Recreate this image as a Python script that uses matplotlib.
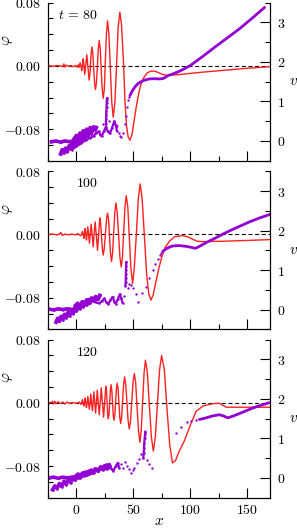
import numpy as np
import matplotlib
matplotlib.use("Agg")
import matplotlib.pyplot as plt
from matplotlib.ticker import FixedLocator, MultipleLocator, FuncFormatter

plt.rcParams['mathtext.fontset'] = 'cm'
plt.rcParams['font.family'] = ['DejaVu Serif']

RED = '#ff2020'
PURPLE = '#9400d3'

# panel labels
labels = [r'$t\, =\, 80$', r'$100$', r'$120$']

# ---- red curves: (x, phi) ----
red_80 = np.array([
    (-25, 0.0005), (-21, -0.0005), (-17, 0.0005), (-14, 0.0), (-12, -0.001), (-11, 0.0025),
    (-10, -0.0015), (-9, 0.001), (-7, -0.0005), (-5, 0.0005), (-3, -0.001), (-1, 0.0005),
    (0.5, -0.0015), (1.5, 0.0015), (2.3, -0.002), (3.2, 0.004), (4.0, -0.001), (4.7, -0.006),
    (5.3, 0.002), (5.9, 0.009), (6.6, 0.0), (7.3, -0.011), (8.2, 0.002), (9.1, 0.014),
    (10.1, -0.002), (11.1, -0.018), (11.9, -0.009), (12.6, 0.010), (13.5, 0.024), (14.3, 0.017),
    (15.1, -0.003), (15.9, -0.021), (16.7, -0.030), (17.5, -0.022), (18.4, 0.0), (19.2, 0.022),
    (20.0, 0.032), (20.9, 0.022), (21.7, -0.004), (22.6, -0.029), (23.5, -0.041), (24.5, -0.029),
    (25.4, 0.008), (26.3, 0.040), (27.3, 0.057), (28.5, 0.040), (29.8, -0.004), (31.0, -0.046),
    (32.3, -0.065), (33.8, -0.046), (35.2, 0.0), (36.6, 0.048), (38.1, 0.068), (39.6, 0.052),
    (41.5, 0.0), (42.6, -0.045), (43.9, -0.075), (45.4, -0.090), (47.0, -0.094), (48.8, -0.087),
    (50.6, -0.070), (52.5, -0.052), (54.5, -0.036), (56.5, -0.024), (59.0, -0.015), (62.0, -0.009),
    (65.5, -0.0065), (69.0, -0.0068), (72.0, -0.0085), (76.0, -0.011), (80.0, -0.012),
    (90.0, -0.011), (110.0, -0.008), (130.0, -0.0055), (150.0, -0.003), (170.0, -0.001),
])

red_100 = np.array([
    (-25, 0.0), (-21, 0.0005), (-17, -0.0005), (-15, 0.0005), (-13.8, 0.0025), (-12.5, -0.001),
    (-10, 0.0005), (-7, -0.0005), (-4, 0.0005), (-1, -0.0005), (1.5, 0.001), (3.5, -0.0015),
    (4.5, 0.0), (5.3, 0.004), (5.9, 0.0), (6.5, -0.005), (7.0, 0.0), (7.6, 0.0075), (8.2, 0.0),
    (8.8, -0.007), (9.4, 0.001), (10.0, 0.0097), (10.7, 0.0), (11.4, -0.011), (12.1, 0.0),
    (12.9, 0.013), (13.8, 0.0), (14.7, -0.0156), (15.5, 0.0), (16.4, 0.016), (17.4, 0.0),
    (18.5, -0.020), (19.5, 0.0), (20.5, 0.021), (21.2, 0.015), (22.0, -0.002), (22.8, -0.019),
    (23.5, -0.026), (24.4, -0.018), (25.4, 0.0), (26.4, 0.019), (27.3, 0.027), (28.2, 0.019),
    (29.0, -0.003), (29.9, -0.024), (30.8, -0.034), (31.7, -0.024), (32.7, 0.002), (33.7, 0.028),
    (34.6, 0.040), (35.8, 0.028), (37.0, 0.0), (38.2, -0.029), (39.3, -0.041), (40.4, -0.029),
    (41.5, 0.004), (42.6, 0.035), (43.7, 0.049), (45.1, 0.035), (46.5, -0.006), (47.9, -0.044),
    (49.3, -0.062), (50.7, -0.044), (52.6, 0.0), (54.3, 0.045), (56.0, 0.064), (57.7, 0.045),
    (59.8, -0.005), (61.6, -0.050), (63.5, -0.075), (65.4, -0.083), (67.3, -0.077), (69.5, -0.062),
    (72.0, -0.045), (75.0, -0.028), (78.0, -0.016), (82.0, -0.008), (86.0, -0.003), (92.7, -0.0013),
    (98.0, -0.003), (102.0, -0.006), (106.0, -0.0085), (110.0, -0.009), (130.0, -0.0085),
    (150.0, -0.0075), (170.0, -0.0065),
])

red_120 = np.array([
    (-25, 0.0), (-22, 0.0005), (-21, 0.002), (-20, -0.0015), (-19, 0.002), (-18, -0.001),
    (-16, 0.0015), (-14, -0.001), (-12, 0.001), (-10, -0.0015), (-8.5, 0.001), (-6, -0.0005),
    (-3, 0.0005), (0, -0.0005), (2.5, 0.001), (4.0, -0.002), (5.3, 0.004), (5.9, 0.0),
    (6.5, -0.004), (7.05, 0.0), (7.6, 0.006), (8.2, 0.0), (8.8, -0.006), (9.4, 0.0), (10.0, 0.008),
    (10.65, 0.0), (11.3, -0.008), (11.95, 0.0), (12.6, 0.011), (13.3, 0.0), (14.0, -0.010),
    (14.65, 0.001), (15.3, 0.014), (16.05, 0.0), (16.8, -0.013), (17.55, 0.001), (18.3, 0.016),
    (19.15, 0.0), (20.0, -0.015), (20.9, 0.001), (21.8, 0.019), (22.8, 0.0), (23.8, -0.018),
    (24.8, 0.001), (25.8, 0.021), (26.4, 0.015), (26.9, 0.0), (27.4, -0.014), (28.0, -0.020),
    (28.6, -0.014), (29.2, 0.001), (29.8, 0.016), (30.4, 0.023), (31.05, 0.016), (31.7, 0.0),
    (32.35, -0.016), (33.0, -0.022), (33.7, -0.015), (34.4, 0.001), (35.1, 0.018), (35.8, 0.025),
    (36.55, 0.018), (37.3, 0.0), (38.05, -0.018), (38.8, -0.026), (39.7, -0.018), (40.55, 0.003),
    (41.4, 0.023), (42.3, 0.033), (43.3, 0.023), (44.35, 0.0), (45.4, -0.023), (46.4, -0.033),
    (47.5, -0.023), (48.6, 0.002), (49.7, 0.026), (50.8, 0.037), (52.0, 0.026), (53.25, -0.006),
    (54.5, -0.035), (55.7, -0.050), (56.9, -0.035), (58.15, 0.002), (59.4, 0.038), (60.6, 0.054),
    (62.3, 0.038), (64.05, -0.003), (65.8, -0.043), (67.5, -0.061), (69.3, -0.043), (71.15, 0.0),
    (73.0, 0.042), (74.8, 0.060), (77.2, 0.042), (79.55, -0.008), (81.9, -0.053), (84.3, -0.076),
    (87.0, -0.073), (90.0, -0.062), (94.8, -0.048), (100.6, -0.026), (105.0, -0.011),
    (111.0, -0.004), (119.7, -0.001), (125.6, -0.0005), (128.5, -0.003), (131.5, -0.0055),
    (150.0, -0.0055), (170.0, -0.0055),
])

# ---- purple v_x: (x, v) ----
pur80_flat = np.array([(-22, -0.02), (-18, 0.0), (-14, -0.03), (-10, 0.0), (-6, -0.02), (-2, 0.01), (0, -0.02)])
pur80_lower = np.array([(-14, -0.33), (-12.5, -0.22), (-11, -0.30), (-9.5, -0.18), (-8, -0.27), (-6.5, -0.12),
                        (-5, -0.20), (-3.5, -0.06), (-2, -0.14), (-0.5, 0.0), (1, -0.08), (2.5, 0.08), (4, 0.0),
                        (5.5, 0.15), (7, 0.06), (8.5, 0.22), (10, 0.12), (11.5, 0.28), (13, 0.18), (14.5, 0.32)])
pur80_upper = np.array([(-2, 0.06), (0, 0.14), (1.5, 0.04), (3, 0.2), (4.5, 0.09), (6, 0.26), (7.5, 0.14),
                        (9, 0.30), (10.5, 0.2), (12, 0.34), (13.5, 0.24), (15, 0.36), (16.5, 0.28), (17.5, 0.34)])
pur80_wave = np.array([(-4, -0.22), (0, -0.14), (4, -0.06), (8, 0.02), (12, 0.08), (15, 0.12), (17, 0.20),
                       (19.4, 0.24), (21, 0.16), (22.3, 0.13), (24, 0.24), (25.8, 0.36), (27.5, 0.24),
                       (29.3, 0.19), (31.3, 0.33), (33.2, 0.50), (34.5, 0.40), (35.5, 0.26)])
pur80_column = np.array([(25.8, 0.42), (26.0, 0.55), (26.2, 0.65), (26.3, 0.75), (26.4, 0.85), (26.5, 0.95),
                         (26.6, 1.03), (26.9, 1.08)])
pur80_dots = np.array([(23.5, 0.42), (29, 0.50), (35.2, 0.39), (37, 0.21), (38.1, 0.13), (39.3, 0.09),
                       (41, 0.21), (42.5, 0.43), (43.4, 0.64), (44.3, 0.86), (45.2, 1.03), (46.4, 1.11)])
pur80_main = np.array([(47, 1.15), (48.5, 1.24), (50, 1.31), (52, 1.39), (54, 1.45), (56, 1.49), (58, 1.52),
                       (61, 1.55), (64, 1.57), (67, 1.575), (70, 1.575), (73, 1.57), (76, 1.58), (78, 1.61),
                       (80, 1.65), (85, 1.70), (90, 1.76), (95, 1.83), (100, 1.91), (110, 2.12), (122.7, 2.40),
                       (133, 2.62), (143.2, 2.84), (154, 3.10), (165.2, 3.38)])

pur100_flat = np.array([(-24, 0.01), (-20, -0.01), (-16, 0.02), (-12, 0.0), (-8, 0.02), (-4, 0.0), (-1, 0.02)])
pur100_lower = np.array([(-18, -0.32), (-16.5, -0.22), (-15, -0.30), (-13.5, -0.17), (-12, -0.26), (-10.5, -0.12),
                         (-9, -0.21), (-7.5, -0.07), (-6, -0.16), (-4.5, -0.02), (-3, -0.10), (-1.5, 0.04),
                         (0, -0.04), (1.5, 0.10), (3, 0.02), (4.5, 0.15), (6, 0.07), (7.5, 0.20), (9, 0.12),
                         (10.5, 0.25), (12, 0.17), (13.5, 0.29), (15, 0.22), (16.5, 0.32), (18, 0.26), (20, 0.33)])
pur100_upper = np.array([(-1, 0.10), (1, 0.16), (3, 0.08), (5, 0.20), (7, 0.12), (9, 0.25), (11, 0.17),
                         (13, 0.29), (15, 0.22), (17, 0.33), (19, 0.26), (20.5, 0.36)])
pur100_wave = np.array([(17, 0.18), (20, 0.16), (22.5, 0.22), (24.4, 0.28), (26.3, 0.18), (27.9, 0.14),
                        (29.8, 0.24), (31.7, 0.32), (33.2, 0.20), (34.6, 0.15), (36.4, 0.27), (38.1, 0.39),
                        (39.3, 0.28), (40.5, 0.17)])
pur100_column = np.array([(43.0, 0.60), (43.2, 0.70), (43.3, 0.80), (43.4, 0.90), (43.5, 1.00), (43.6, 1.10),
                          (43.8, 1.20)])
pur100_dots = np.array([(41.5, 0.35), (44.9, 0.54), (46.5, 0.65), (47.8, 0.62), (49.9, 0.54), (52, 0.40),
                        (54.3, 0.20), (58, 0.42), (61, 0.58), (64, 0.80), (66.9, 1.0), (69, 1.15), (71.3, 1.28),
                        (73, 1.37), (74.2, 1.43)])
pur100_main = np.array([(75.7, 1.47), (78, 1.52), (80.1, 1.56), (84.5, 1.61), (90.4, 1.62), (96.2, 1.60),
                        (100, 1.58), (104.5, 1.55), (108, 1.60), (115, 1.71), (122.7, 1.82), (130, 1.93),
                        (137.3, 2.03), (145, 2.13), (152, 2.22), (161, 2.32), (170, 2.41)])

pur120_flat = np.array([(-24, 0.0), (-20, 0.02), (-16, -0.01), (-12, 0.02), (-8, 0.0), (-4, 0.02), (0, 0.0), (1, 0.01)])
pur120_lower = np.array([(-21, -0.30), (-19, -0.20), (-17, -0.27), (-15, -0.14), (-13, -0.22), (-11, -0.08),
                         (-9, -0.17), (-7, -0.03), (-5, -0.12), (-3, 0.02), (-1, -0.06), (1, 0.07), (3, 0.0),
                         (5, 0.12), (7, 0.05), (9, 0.16), (11, 0.09), (13, 0.20), (15, 0.13), (17, 0.23),
                         (19, 0.17), (21, 0.27), (23, 0.21), (25, 0.30), (27, 0.24), (29, 0.31)])
pur120_upper = np.array([(-1, 0.04), (1.5, 0.10), (4, 0.03), (6.5, 0.14), (9, 0.07), (11.5, 0.18), (14, 0.12),
                         (16.5, 0.23), (19, 0.17), (21.5, 0.28), (24, 0.22), (26.5, 0.33), (29, 0.27)])
pur120_wave = np.array([(20, 0.22), (22.2, 0.26), (24.4, 0.32), (26.5, 0.22), (28.8, 0.36), (30.8, 0.22),
                        (32.5, 0.18), (34.5, 0.30), (36.2, 0.38), (37.5, 0.26)])
pur120_column = np.array([(58.7, 0.50), (59.0, 0.62), (59.3, 0.75), (59.6, 0.88), (59.9, 1.00), (60.2, 1.10),
                          (60.5, 1.17)])
pur120_dots = np.array([(39, 0.35), (41, 0.26), (42.8, 0.41), (44.5, 0.30), (45.8, 0.22), (47.8, 0.13),
                        (49.5, 0.20), (50.8, 0.26), (52.8, 0.37), (55.2, 0.48), (56.6, 0.61), (62, 0.45),
                        (64, 0.35), (66.3, 0.26), (87.4, 1.13), (92, 1.30), (96.8, 1.42), (101, 1.45),
                        (105, 1.46)])
pur120_main = np.array([(108, 1.48), (113.8, 1.52), (119.7, 1.57), (125.6, 1.60), (129.1, 1.57), (132.9, 1.52),
                        (138, 1.57), (143.2, 1.63), (149, 1.70), (154.9, 1.77), (162, 1.84), (170, 1.91)])

panels = [
    (red_80, [pur80_flat, pur80_lower, pur80_upper, pur80_wave, pur80_column], pur80_dots, pur80_main),
    (red_100, [pur100_flat, pur100_lower, pur100_upper, pur100_wave, pur100_column], pur100_dots, pur100_main),
    (red_120, [pur120_flat, pur120_lower, pur120_upper, pur120_wave, pur120_column], pur120_dots, pur120_main),
]

fig = plt.figure(figsize=(2.97, 5.29), dpi=100)
bottoms = [0.6962, 0.3775, 0.0592]

phi_fmt = FuncFormatter(lambda v, p: r'$%.2f$' % v)
v_fmt = FuncFormatter(lambda v, p: r'$%d$' % round(v))
x_fmt = FuncFormatter(lambda v, p: r'$%d$' % round(v))

for i, (red, clouds, dots, main) in enumerate(panels):
    ax = fig.add_axes([0.1616, bottoms[i], 0.7475, 0.2987])
    ax2 = ax.twinx()

    ax.axhline(0.0, color='k', lw=0.8, ls=(0, (3.6, 2.4)), zorder=1)
    ax.plot(red[:, 0], red[:, 1], color=RED, lw=1.0, zorder=3)

    # particle cloud: flat band, two jagged bands, wavy strand, vertical column
    for j, c in enumerate(clouds):
        ax2.plot(c[:, 0], c[:, 1], color=PURPLE, lw=2.6 if j < 3 else 1.6,
                 marker='o', ms=1.8, mew=0)
    ax2.plot(dots[:, 0], dots[:, 1], ls='none', color=PURPLE, marker='o', ms=1.7, mew=0)
    ax2.plot(main[:, 0], main[:, 1], color=PURPLE, lw=2.0, solid_capstyle='round')

    ax.set_xlim(-25, 170)
    ax.set_ylim(-0.12, 0.08)
    ax2.set_ylim(-0.5, 3.5)

    for a in (ax, ax2):
        a.spines['top'].set_visible(False)
        for s in a.spines.values():
            s.set_linewidth(0.8)

    ax.xaxis.set_major_locator(MultipleLocator(50))
    ax.xaxis.set_minor_locator(MultipleLocator(25))
    ax.yaxis.set_major_locator(FixedLocator([-0.08, 0.0, 0.08]))
    ax.yaxis.set_minor_locator(MultipleLocator(0.02))
    ax.yaxis.set_major_formatter(phi_fmt)
    ax2.yaxis.set_major_locator(MultipleLocator(1))
    ax2.yaxis.set_minor_locator(MultipleLocator(0.5))
    ax2.yaxis.set_major_formatter(v_fmt)

    ax.tick_params(axis='x', which='major', direction='in', length=7, width=0.8, top=False, pad=4, labelsize=10)
    ax.tick_params(axis='x', which='minor', direction='in', length=3.6, width=0.8, top=False)
    ax.tick_params(axis='y', which='both', direction='in', length=3.6, width=0.8, right=False, pad=5, labelsize=10)
    ax2.tick_params(axis='y', which='major', direction='in', length=7, width=0.8, pad=5, labelsize=10)
    ax2.tick_params(axis='y', which='minor', direction='in', length=3.6, width=0.8)

    if i < 2:
        ax.tick_params(axis='x', labelbottom=False)
    else:
        ax.xaxis.set_major_formatter(x_fmt)
        ax.set_xlabel(r'$x$', fontsize=11, labelpad=-2)

    ax.text(19, 0.065, labels[i], ha='right', va='center', fontsize=10)
    ax.text(-0.18, 0.76, r'$\varphi$', rotation=90, transform=ax.transAxes,
            ha='center', va='center', fontsize=11)
    ax.text(1.085, 0.49, r'$v_x$', transform=ax.transAxes, ha='left', va='center', fontsize=11)

fig.savefig('out.png', dpi=100)
